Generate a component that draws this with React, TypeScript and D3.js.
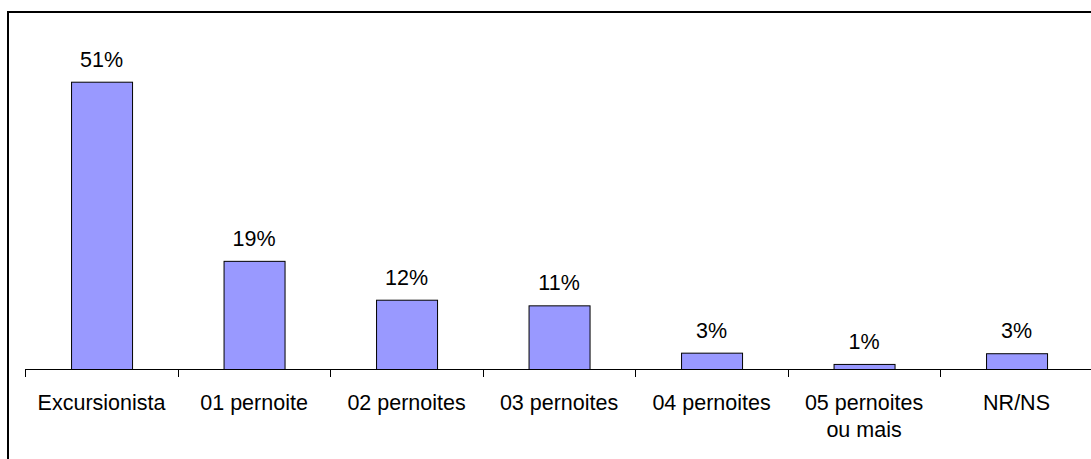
import * as d3 from 'd3';

const categories = ['Excursionista', '01 pernoite', '02 pernoites', '03 pernoites', '04 pernoites', '05 pernoites\nou mais', 'NR/NS'];
const values = [51, 19.2, 12.3, 11.3, 2.9, 0.9, 2.8];
const valueLabels = ['51%', '19%', '12%', '11%', '3%', '1%', '3%'];

const W = 1091;
const H = 459;
const AXIS_Y = 369;
const X0 = 25.3;
const STEP = 152.5;
const FONT = 'Liberation Sans, Arial, sans-serif';
const FS = 21.5;

export default function App() {
  const x = d3.scaleBand<string>()
    .domain(categories)
    .range([X0, X0 + STEP * categories.length])
    .paddingInner(0.6)
    .paddingOuter(0.3);

  const y = d3.scaleLinear().domain([0, 60]).range([AXIS_Y, 31]);

  const ticks = d3.range(categories.length + 1).map(i => X0 + i * x.step());

  return (
    <svg width={W} height={H} style={{ position: 'absolute', left: 0, top: 0 }}>
      <rect x={0} y={0} width={W} height={H} fill="#fff" />
      <rect x={8} y={12} width={W + 20} height={H + 20} fill="none" stroke="#000" strokeWidth={2} />

      {categories.map((c, i) => {
        const bx = x(c)!;
        const by = y(values[i]);
        return (
          <g key={c}>
            <rect
              x={bx + 0.5}
              y={by + 0.5}
              width={x.bandwidth()}
              height={AXIS_Y - by}
              fill="#9999FF"
              stroke="#000"
              strokeWidth={1}
            />
            <text
              x={bx + x.bandwidth() / 2}
              y={by - 15}
              textAnchor="middle"
              fontFamily={FONT}
              fontSize={FS}
              fill="#000"
            >
              {valueLabels[i]}
            </text>
          </g>
        );
      })}

      <line x1={X0} x2={W} y1={AXIS_Y + 0.5} y2={AXIS_Y + 0.5} stroke="#000" strokeWidth={1} />
      {ticks.map(t => (
        <line key={t} x1={Math.round(t) + 0.5} x2={Math.round(t) + 0.5} y1={AXIS_Y} y2={AXIS_Y + 8} stroke="#000" strokeWidth={1} />
      ))}

      {categories.map(c => {
        const cx = x(c)! + x.bandwidth() / 2;
        return (
          <text key={c} x={cx} y={410} textAnchor="middle" fontFamily={FONT} fontSize={FS} fill="#000">
            {c.split('\n').map((line, j) => (
              <tspan key={j} x={cx} dy={j === 0 ? 0 : 27}>{line}</tspan>
            ))}
          </text>
        );
      })}
    </svg>
  );
}
